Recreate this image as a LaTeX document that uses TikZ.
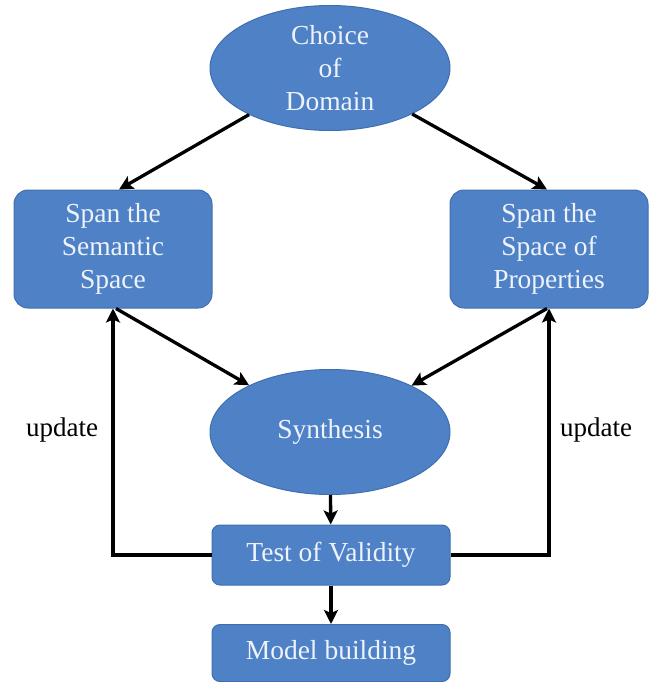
\documentclass[tikz,border=0pt]{standalone}
\usepackage{fontspec}
\setmainfont{Liberation Serif}
\usetikzlibrary{shapes.geometric,arrows.meta}
\definecolor{boxfill}{HTML}{4F81C7}
\definecolor{boxedge}{HTML}{3F6FAF}
\definecolor{boxtext}{HTML}{EEF3FA}
\tikzset{
  base/.style={fill=boxfill,draw=boxedge,line width=1pt,text=boxtext,align=center,
    font=\fontsize{27.5}{33}\selectfont,inner sep=0pt},
  oval/.style={base,ellipse,minimum width=240pt,minimum height=125pt},
  rbox/.style={base,rounded corners=14pt,minimum width=198pt,minimum height=118pt},
  wbox/.style={base,rounded corners=8pt,minimum width=238pt,minimum height=60pt},
  arr/.style={line width=3.3pt,-{Stealth[length=14pt,width=14pt,inset=3pt]}},
  lbl/.style={font=\fontsize{27}{30}\selectfont,text=black}
}
\begin{document}
\begin{tikzpicture}[x=1pt,y=-1pt]
\useasboundingbox (0,0) rectangle (652,682);
\node[oval] (choice) at (330,68) {Choice\\of\\Domain};
\node[rbox] (sem) at (113,249) {Span the\\Semantic\\Space};
\node[rbox] (prop) at (549,249) {Span the\\Space of\\Properties};
\node[oval] (syn) at (330,432) {Synthesis};
\node[wbox] (test) at (331,555) {Test of Validity};
\node[wbox,minimum height=57pt] (model) at (331,653) {Model building};
\node[lbl] (u1) at (62,430) {update};
\node[lbl] (u2) at (596,430) {update};
\draw[arr] (choice) -- ([xshift=6pt]sem.north);
\draw[arr] (choice) -- ([xshift=-2pt]prop.north);
\draw[arr] ([xshift=3pt]sem.south) -- (syn);
\draw[arr] ([xshift=-2pt]prop.south) -- (syn);
\draw[arr] (syn) -- (test);
\draw[arr] (test) -- (model);
\draw[arr] (test.west) -| (sem.south);
\draw[arr] (test.east) -| (prop.south);
\end{tikzpicture}
\end{document}
